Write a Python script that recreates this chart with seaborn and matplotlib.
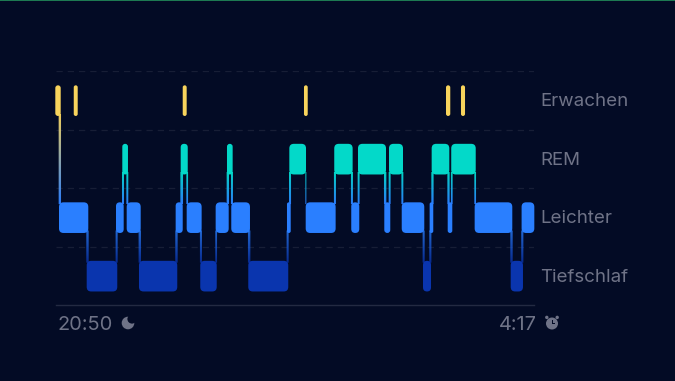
import matplotlib
matplotlib.use("Agg")
import matplotlib.pyplot as plt
from matplotlib.colors import LinearSegmentedColormap
from matplotlib.patches import FancyBboxPatch, Circle, Rectangle
from matplotlib.transforms import Affine2D
import numpy as np
import pandas as pd
import seaborn as sns

# ---------- data (minutes after 20:50) ----------
stage_names = ["Tiefschlaf", "Leichter", "REM", "Erwachen"]
D, L, R, W = 0, 1, 2, 3
time_labels = ["20:50", "4:17"]
total_minutes = 447

seq_stage = [W, L, D, L, R, L, D, L, R, L, D, L, R, L, D, L, R, L, R, L, R, L, R, L, D, L, R, L, R, L, D, L]
seq_start = [-0.65, 2.8, 28.7, 56.1, 62.0, 66.1, 77.6, 111.9, 116.6, 122.2, 134.9, 149.3, 159.9, 163.9,
             179.8, 216.0, 218.2, 233.5, 260.2, 276.1, 282.4, 307.0, 311.4, 323.3, 343.2, 349.4, 351.3,
             366.3, 369.6, 391.5, 425.2, 435.4]
seq_end = [4.4, 30.2, 57.3, 63.3, 67.3, 79.2, 113.4, 118.5, 123.2, 136.2, 150.3, 161.5, 165.2, 181.4,
           217.2, 219.5, 233.8, 261.5, 277.4, 283.6, 308.6, 312.6, 324.5, 344.4, 350.7, 352.8, 367.8,
           370.6, 392.5, 426.7, 436.7, 447.3]
awake_start = [16.6, 118.5, 231.9, 364.7, 378.7]
awake_end = [20.3, 122.2, 235.4, 368.7, 382.5]

# ---------- style ----------
BG = "#030b25"
GUIDE = "#171e36"
BASE = "#232a42"
TEXT = "#6f7387"
COLORS = {W: "#f8d45c", R: "#03d9c9", L: "#2a7fff", D: "#0a35ae"}
HALF = 0.262

sns.set_theme(style="dark", rc={"axes.facecolor": BG, "figure.facecolor": BG,
                                "font.family": ["Inter", "DejaVu Sans"]})

fig = plt.figure(figsize=(6.75, 3.81), dpi=100)
ax = fig.add_axes([56 / 675, 1 - 305.4 / 381, 478 / 675, 234 / 381])
ax.set_facecolor(BG)

# dashed level guides
guides = pd.DataFrame({"x": [0, total_minutes] * 4,
                       "y": np.repeat([0.5, 1.5, 2.5, 3.5], 2),
                       "g": np.repeat(list("abcd"), 2)})
sns.lineplot(data=guides, x="x", y="y", units="g", estimator=None, ax=ax, color=GUIDE,
             lw=0.9, linestyle=(0, (5, 4)), legend=False)
ax.set_xlim(0, total_minutes)
ax.set_ylim(-0.5, 3.5)

xpx = total_minutes / 478
ypx = 4 / 234
aspect = ypx / xpx


def bar(start, end, stage):
    w = end - start
    r = min(4.5 * xpx, w / 2)
    ax.add_patch(FancyBboxPatch((start, stage - HALF), w, 2 * HALF,
                                boxstyle=f"round,pad=0,rounding_size={r}",
                                mutation_aspect=aspect, fc=COLORS[stage], ec="none",
                                zorder=4, clip_on=False))


# gradient connectors between consecutive stages
for i in range(len(seq_stage) - 1):
    a, b = seq_stage[i], seq_stage[i + 1]
    x0 = seq_start[i + 1] - 0.3
    x1 = seq_end[i] + 0.3
    top, bottom = (a, b) if a > b else (b, a)
    cmap = LinearSegmentedColormap.from_list("c", [COLORS[bottom], COLORS[top]])
    y0 = bottom + HALF - 0.03
    y1 = top - HALF + 0.03
    edges = np.arange(y0, y1 + ypx, ypx)
    for j in range(len(edges) - 1):
        frac = j / max(len(edges) - 2, 1)
        ax.add_patch(Rectangle((x0, edges[j]), x1 - x0, ypx * 1.05, fc=cmap(frac), ec="none",
                               lw=0, zorder=3, snap=False))

for s, e, st in zip(seq_start, seq_end, seq_stage):
    bar(s, e, st)
for s, e in zip(awake_start, awake_end):
    bar(s, e, W)

ax.set_xlim(0, total_minutes)
ax.set_ylim(-0.5, 3.5)
ax.set_xlabel("")
ax.set_ylabel("")
ax.grid(False)

# axis text
ax.yaxis.tick_right()
ax.set_yticks(range(4))
ax.set_yticklabels(stage_names, fontsize=13.5, color=TEXT)
ax.tick_params(axis="y", length=0, pad=4.5)
for lab in ax.get_yticklabels():
    lab.set_transform(lab.get_transform() + Affine2D().translate(0, 1))
ax.set_xticks([0, total_minutes])
ax.set_xticklabels(time_labels, fontsize=14.4, color=TEXT)
ax.tick_params(axis="x", length=0, pad=7.5)
xt = ax.get_xticklabels()
xt[0].set_ha("left")
xt[1].set_ha("right")
xt[0].set_transform(xt[0].get_transform() + Affine2D().translate(1.5, 0))
xt[1].set_transform(xt[1].get_transform() + Affine2D().translate(3, 0))

for side, sp in ax.spines.items():
    sp.set_visible(side == "bottom")
ax.spines["bottom"].set_color(BASE)
ax.spines["bottom"].set_linewidth(1.0)

# figure-level decorations, in pixel coordinates
px = Affine2D().scale(1 / 675, -1 / 381).translate(0, 1) + fig.transFigure
fig.add_artist(Rectangle((0, 0), 675, 1, transform=px, fc="#1d7a52", ec="none"))

# moon icon
fig.add_artist(Circle((128, 323), 6.3, transform=px, fc=TEXT, ec="none"))
fig.add_artist(Circle((132, 319), 4.6, transform=px, fc=BG, ec="none"))
# alarm icon
fig.add_artist(Circle((552, 323.5), 6.0, transform=px, fc=TEXT, ec="none"))
fig.add_artist(Circle((546.8, 317.4), 1.7, transform=px, fc=TEXT, ec="none"))
fig.add_artist(Circle((557.2, 317.4), 1.7, transform=px, fc=TEXT, ec="none"))
fig.add_artist(Rectangle((551.5, 319.5), 1, 4.5, transform=px, fc=BG, ec="none"))
fig.add_artist(Rectangle((551.5, 323.2), 3.2, 1, transform=px, fc=BG, ec="none"))

fig.savefig("out.png", dpi=100, facecolor=BG)
